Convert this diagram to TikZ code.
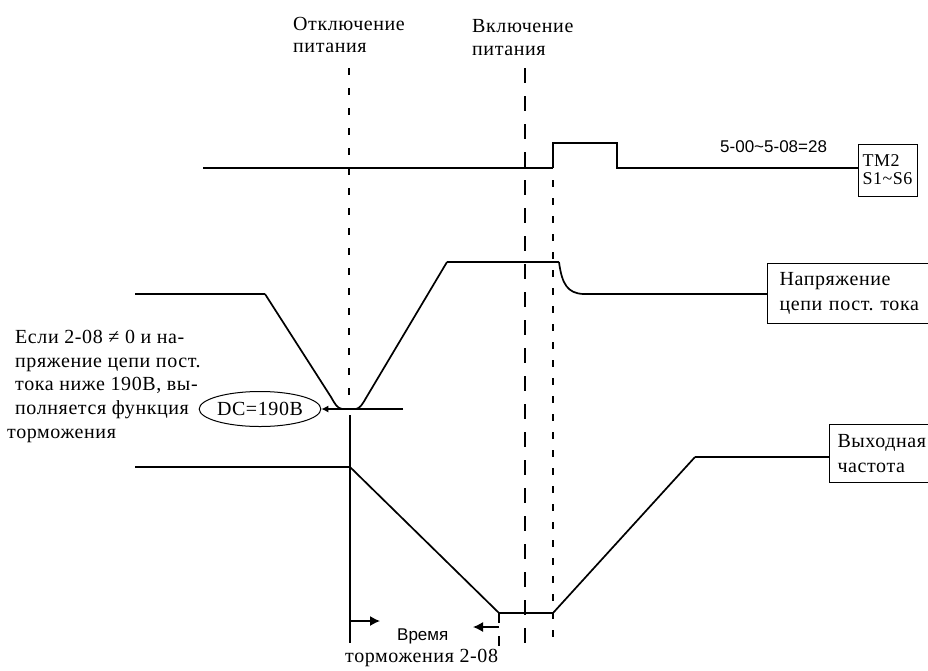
\documentclass[tikz,border=0pt]{standalone}
\usepackage{fontspec}
\setmainfont[LetterSpace=3]{Liberation Serif}
\newfontfamily\sansL{Liberation Sans}
\usetikzlibrary{arrows.meta,shapes.geometric}
\frenchspacing
\begin{document}
\begin{tikzpicture}[x=1pt,y=-1pt,
  sigthick/.style={line width=2.8pt},
  sigthin/.style={line width=1.3pt},
  sigslope/.style={line width=1.7pt, line join=round},
  fdash/.style={line width=1.4pt, dash pattern=on 7pt off 13pt},
  ldash/.style={line width=1.4pt, dash pattern=on 15pt off 13pt},
  sdash/.style={line width=1.3pt, dash pattern=on 7pt off 11pt},
  txt/.style={inner sep=0pt, anchor=base west, font=\fontsize{20}{24}\selectfont},
  stxt/.style={inner sep=0pt, anchor=base west, font=\sansL\fontsize{17}{20}\selectfont},
  tipbig/.style={-{Latex[length=10pt,width=10pt]}},
  tipsmall/.style={-{Latex[length=7pt,width=7pt]}},
  lbox/.style={draw, line width=1pt, anchor=north west, align=left, font=\fontsize{20}{25}\selectfont}
]
\useasboundingbox (0,0) rectangle (928,670);

% top labels
\node[txt] (off1) at (293,30) {Отключение};
\node[txt] (off2) at (293,52) {питания};
\node[txt] (on1) at (472,32) {Включение};
\node[txt] (on2) at (472,55) {питания};

% vertical dashed markers
\coordinate (d1a) at (349,68);
\coordinate (d1b) at (349,406);
\coordinate (d2a) at (525,68);
\coordinate (d2b) at (525,645);
\coordinate (d3a) at (553,180);
\coordinate (d3b) at (553,640);
\draw[fdash] (d1a) -- (d1b);
\draw[ldash] (d2a) -- (d2b);
\draw[sdash] (d3a) -- (d3b);

% TM2 signal
\node[draw, line width=1pt, minimum width=59pt, minimum height=52pt, align=left,
      inner sep=1pt, font=\fontsize{18}{18}\selectfont] (tm2) at (887.5,170) {TM2\\S1\textasciitilde S6};
\node[stxt] (param) at (720,152) {5-00\textasciitilde 5-08=28};
\coordinate (s0) at (203,168);
\coordinate (s1) at (497,168);
\coordinate (s2) at (553,168);
\coordinate (s3) at (553,143);
\coordinate (s4) at (617,143);
\coordinate (s5) at (617,168);
\draw[sigthick] (s0) -- (s1);
\draw[sigthin] (s1) -- (s2);
\draw[sigthick, line join=miter] (s2) -- (s3) -- (s4) -- (s5) -- (s5 -| tm2.west);

% DC bus voltage
\node[lbox, minimum width=170pt, minimum height=60pt, text width=146pt, inner xsep=12pt]
      (dcbox) at (767,263) {Напряжение\\цепи пост. тока};
\coordinate (v0) at (135,294);
\coordinate (v1) at (265,294);
\coordinate (v2) at (447,262);
\coordinate (v3) at (559,262);
\coordinate (v4) at (583,294);
\draw[sigthick] (v0) -- (v1);
\draw[sigslope] (v1) -- (331,397) .. controls (335,404) and (337,408) .. (342,409);
\draw[sigslope] (356,409) .. controls (360,408) and (362,405) .. (366,398) -- (v2);
\draw[sigthin] (v2) -- (v3);
\draw[sigslope] (v3) .. controls (562,285) and (568,293) .. (v4);
\draw[sigthick] (v4) -- (v4 -| dcbox.west);

% DC=190V threshold
\node[ellipse, draw, line width=1pt, minimum width=106pt, minimum height=35pt, inner sep=0pt,
      font=\fontsize{20}{24}\selectfont] (dc) at (260,409) {DC=190В};
\coordinate (h1) at (403,409);
\draw[sigthin, tipsmall] (h1) -- (dc.east);

% left explanation
\node[txt] (t1) at (15,343) {Если 2-08 ≠ 0 и на-};
\node[txt] (t2) at (15,367) {пряжение цепи пост.};
\node[txt] (t3) at (15,390) {тока ниже 190В, вы-};
\node[txt] (t4) at (15,414) {полняется функция};
\node[txt] (t5) at (7,438) {торможения};

% output frequency
\node[lbox, minimum width=110pt, minimum height=58pt, text width=94pt, inner xsep=8pt]
      (fbox) at (829,424) {Выходная\\частота};
\coordinate (f0) at (135,467);
\coordinate (f1) at (350,467);
\coordinate (f2) at (499,613);
\coordinate (f3) at (553,613);
\coordinate (f4) at (695,457);
\draw[sigthin] (f0) -- (f1);
\draw[sigslope] (f1) -- (f2);
\draw[sigthin] (f2) -- (f3);
\draw[sigslope] (f3) -- (f4);
\draw[sigthin] (f4) -- (f4 -| fbox.west);

% braking time
\coordinate (b0) at (350,415);
\coordinate (b1) at (350,643);
\draw[sigthin] (b0) -- (b1);
\coordinate (a0) at (350,621);
\coordinate (a1) at (380,621);
\draw[sigthin, tipbig] (a0) -- (a1);
\coordinate (c0) at (499,613);
\coordinate (c1) at (499,648);
\draw[line width=1.3pt, dash pattern=on 10pt off 13pt] (c0) -- (c1);
\coordinate (e0) at (499,627);
\coordinate (e1) at (473,627);
\draw[sigthin, tipbig] (e0) -- (e1);
\node[stxt] (bt1) at (397,640) {Время};
\node[txt] (bt2) at (345,662) {торможения 2-08};
\end{tikzpicture}
\end{document}
